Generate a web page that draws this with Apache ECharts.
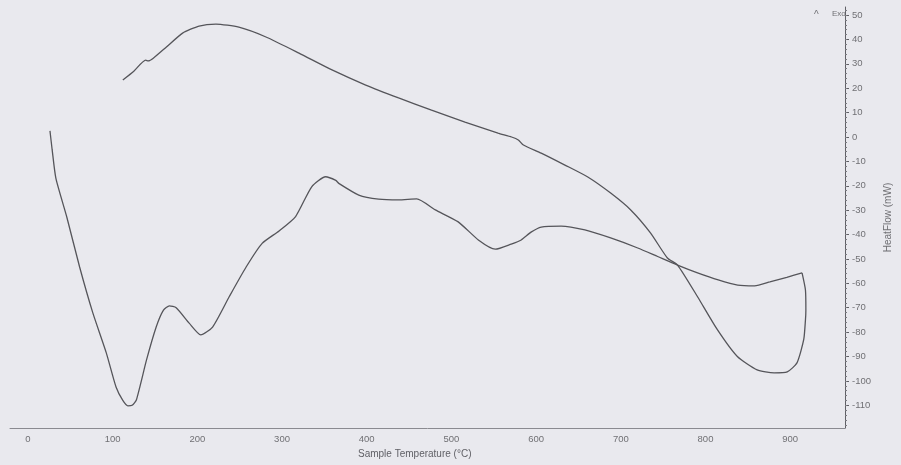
<!DOCTYPE html>
<html>
<head>
<meta charset="utf-8">
<script src="https://cdn.jsdelivr.net/npm/echarts@6/dist/echarts.min.js"></script>
<style>
  html, body { margin: 0; padding: 0; background: #e9e9ee; }
  #chart { width: 901px; height: 465px; }
</style>
</head>
<body>
<div id="chart"></div>
<script>
// DTA heat-flow trace: heating run then cooling run (°C, mW)
const heatingTemp = [26, 28.5, 33, 46, 61, 76.5, 92.5, 104, 112, 118, 123, 128, 140, 151.4, 160, 167, 175, 190.6, 204, 218, 237.6, 257.6, 276.5, 296.5, 316, 335, 351.4, 363.5, 367, 390.6, 414, 437.6, 459, 481, 508, 531.8, 551.8, 570.6, 582.4, 594, 606, 629.4, 657.6, 688, 720, 743.5, 767, 790.6, 815, 838, 858, 876, 896, 914];
const heatingFlow = [2.5, -5, -17, -33, -53.3, -72, -88.5, -102.5, -108, -110.2, -110, -107.8, -91.4, -77.9, -71, -69.2, -70, -76.4, -81.1, -77.9, -65.5, -53.3, -43.6, -38.5, -32.6, -20.4, -16.3, -17.8, -19, -23.8, -25.5, -25.8, -25.4, -29.9, -34.8, -42.2, -46, -43.9, -42.2, -39, -36.9, -36.5, -38.1, -41.4, -45.5, -49, -52.5, -55.7, -58.6, -60.7, -61, -59.4, -57.5, -55.7];

const coolingTemp = [914, 918, 918.5, 918, 916, 908, 896.5, 881, 861, 837.6, 814, 790.6, 767, 755, 735, 712, 688, 661, 634, 606, 585, 579, 571, 555, 516, 476.5, 437.6, 398.8, 359, 320, 281, 249, 222, 202, 182.6, 163.5, 148, 142, 139, 125, 112];
const coolingFlow = [-55.7, -62.7, -71, -75, -83, -92.6, -96.3, -96.7, -95.5, -90, -79, -65.5, -52.5, -49.6, -39.3, -30, -23, -16.4, -11.5, -6.6, -3.3, -1.2, 0, 1.6, 6.1, 11, 16, 21.3, 27.5, 34.4, 41, 45, 46.3, 45.5, 42.6, 36.9, 32.3, 31.2, 31.5, 27, 23.4];

const tempTicks = [0, 100, 200, 300, 400, 500, 600, 700, 800, 900];
const flowTicks = [50, 40, 30, 20, 10, 0, -10, -20, -30, -40, -50, -60, -70, -80, -90, -100, -110];

const pairs = (xs, ys) => xs.map((x, i) => [x, ys[i]]);
const minorFlowTicks = [];
for (let v = -118; v <= 52; v += 2) minorFlowTicks.push(v);

const X_MIN = -21.2, X_MAX = 964.7, Y_MIN = -119.3, Y_MAX = 53.3;
const labelColor = '#707074';
const lineColor = '#55555a';
const font = 'Liberation Sans, Arial, sans-serif';

const chart = echarts.init(document.getElementById('chart'), null, { renderer: 'canvas' });
chart.setOption({
  backgroundColor: '#e9e9ee',
  animation: false,
  grid: { left: 10, right: 53, top: 7, bottom: 37 },
  xAxis: {
    type: 'value', min: X_MIN, max: X_MAX,
    splitLine: { show: false },
    axisLine: { show: true, onZero: false, lineStyle: { color: '#8a8a90', width: 1 } },
    axisTick: { show: false },
    axisLabel: { customValues: tempTicks, color: labelColor, fontSize: 9.5, fontFamily: font, margin: 6 }
  },
  yAxis: [
    {
      type: 'value', position: 'right', min: Y_MIN, max: Y_MAX,
      splitLine: { show: false },
      axisLine: { show: true, onZero: false, lineStyle: { color: '#606066', width: 1 } },
      axisTick: { show: true, inside: false, length: 4, customValues: flowTicks, lineStyle: { color: '#606066' } },
      axisLabel: { customValues: flowTicks, color: labelColor, fontSize: 9.5, fontFamily: font, margin: 7 },
      name: 'HeatFlow (mW)', nameLocation: 'middle', nameRotate: 90, nameGap: 38,
      nameTextStyle: { color: labelColor, fontSize: 10, fontFamily: font }
    },
    {
      type: 'value', position: 'right', offset: 0, min: Y_MIN, max: Y_MAX,
      splitLine: { show: false },
      axisLine: { show: false, onZero: false },
      axisTick: { show: true, length: 2, customValues: minorFlowTicks, lineStyle: { color: '#7a7a80' } },
      axisLabel: { show: false }
    }
  ],
  graphic: [
    { type: 'text', left: 814, top: 10, style: { text: '^', fill: '#707074', font: '10px ' + font } },
    { type: 'text', left: 832, top: 10, style: { text: 'Exo', fill: '#707074', font: '8px ' + font } },
    { type: 'text', left: 358, top: 449, style: { text: 'Sample Temperature (°C)', fill: '#606066', font: '10px ' + font } }
  ],
  series: [
    {
      name: 'Heating', type: 'line', data: pairs(heatingTemp, heatingFlow),
      showSymbol: false, smooth: 0.2, yAxisIndex: 0,
      lineStyle: { color: lineColor, width: 1.3 }
    },
    {
      name: 'Cooling', type: 'line', data: pairs(coolingTemp, coolingFlow),
      showSymbol: false, smooth: 0.2, yAxisIndex: 0,
      lineStyle: { color: lineColor, width: 1.3 }
    }
  ]
});
</script>
</body>
</html>
